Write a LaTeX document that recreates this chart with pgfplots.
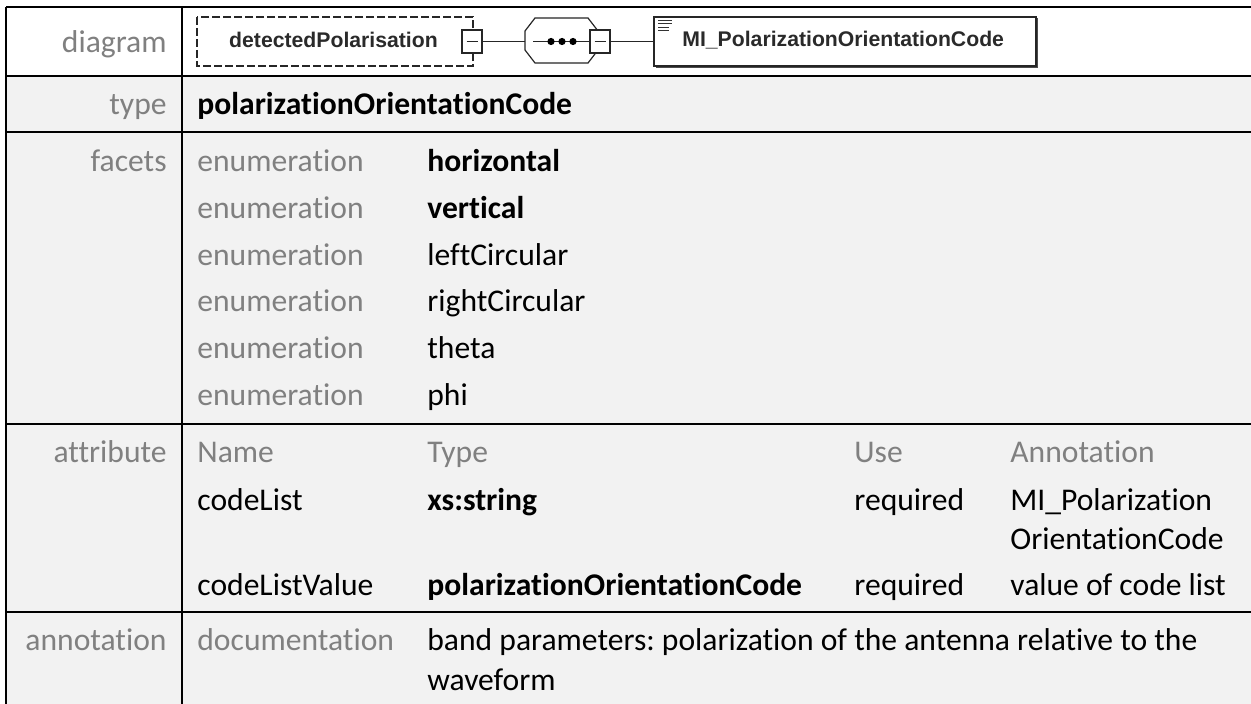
\documentclass[border=0pt]{standalone}
\usepackage{pgfplots}
\pgfplotsset{compat=1.18}
\usepackage{fontspec}
\setmainfont{Carlito}[Ligatures={NoCommon,NoRare}]
\newfontfamily\arialfont{Liberation Sans}
\definecolor{bgG}{HTML}{F2F2F2}
\definecolor{lblG}{HTML}{808080}
\definecolor{diaT}{HTML}{2A2A2A}
\frenchspacing
\begin{document}
\begin{tikzpicture}
\begin{axis}[
  scale only axis, width=625.5bp, height=352bp,
  xmin=0, xmax=1251, ymin=0, ymax=704, y dir=reverse,
  axis lines=none, xtick=\empty, ytick=\empty, clip=true,
]
% backgrounds
\fill[white] (0,0) rectangle (1251,704);
\fill[bgG] (6,76) rectangle (1251,704);
% grid lines
\draw[line width=1.3bp] (6,7) -- (1251,7);
\draw[line width=1.3bp] (6,7) -- (6,704);
\draw[line width=1.3bp] (182,7) -- (182,704);
\draw[line width=1.3bp] (6,76) -- (1251,76);
\draw[line width=1.3bp] (6,132) -- (1251,132);
\draw[line width=1.3bp] (6,424) -- (1251,424);
\draw[line width=1.3bp] (6,612) -- (1251,612);
% ---- diagram
\draw[line width=0.7bp, dash pattern=on 4bp off 1.5bp, draw=black!85] (197,17) rectangle (473,66);
\node[anchor=center, inner sep=0, text=diaT, font=\arialfont\bfseries\fontsize{10.6bp}{12bp}\selectfont] at (333.5,40) {detectedPolarisation};
\fill[white] (462,30) rectangle (482,53);
\draw[line width=0.6bp, draw=black!85] (462,30) rectangle (482,53);
\draw[line width=0.6bp, draw=black!85] (466.5,41.5) -- (477.5,41.5);
\draw[line width=0.6bp, draw=black!85] (482,41.5) -- (525,41.5);
\fill[white] (525,31) -- (535,18) -- (588,18) -- (598,31) -- (598,50) -- (588,63) -- (535,63) -- (525,50) -- cycle;
\draw[line width=0.6bp, draw=black!85] (525,31) -- (535,18) -- (588,18) -- (598,31) -- (598,50) -- (588,63) -- (535,63) -- (525,50) -- cycle;
\draw[line width=0.6bp, draw=black!85] (533,41.5) -- (590,41.5);
\fill[black] (551,41.5) circle[radius=1.8bp];
\fill[black] (562,41.5) circle[radius=1.8bp];
\fill[black] (573,41.5) circle[radius=1.8bp];
\fill[white] (590,30) rectangle (610,53);
\draw[line width=0.6bp, draw=black!85] (590,30) rectangle (610,53);
\draw[line width=0.6bp, draw=black!85] (594.5,41.5) -- (605.5,41.5);
\draw[line width=0.6bp, draw=black!85] (610,41.5) -- (654,41.5);
\draw[line width=0.6bp, draw=black!85] (654,17) rectangle (1036,66);
\draw[line width=0.6bp, draw=black!70] (1037.5,18.5) -- (1037.5,67.5) -- (655.5,67.5);
\draw[line width=0.5bp, draw=black!80] (658,20.5) -- (672,20.5);
\draw[line width=0.5bp, draw=black!80] (658,24) -- (672,24);
\draw[line width=0.5bp, draw=black!80] (658,27.5) -- (669,27.5);
\draw[line width=0.5bp, draw=black!80] (658,31) -- (669,31);
\node[anchor=west, inner sep=0, text=diaT, font=\arialfont\bfseries\fontsize{10.6bp}{12bp}\selectfont] at (682,40) {MI\_PolarizationOrientationCode};
% ---- text styles
\pgfkeys{/tikz/lbl/.style={anchor=base east, inner sep=0, text=lblG, font=\fontsize{15.8bp}{19bp}\selectfont}}
\pgfkeys{/tikz/gw/.style={anchor=base west, inner sep=0, text=lblG, font=\fontsize{15.8bp}{19bp}\selectfont}}
\pgfkeys{/tikz/bw/.style={anchor=base west, inner sep=0, text=black, font=\fontsize{15.8bp}{19bp}\selectfont}}
\pgfkeys{/tikz/bb/.style={anchor=base west, inner sep=0, text=black, font=\fontsize{15.8bp}{19bp}\selectfont\bfseries}}
% labels
\node[lbl] at (167,52.5) {diagram};
\node[lbl] at (167,114) {type};
\node[lbl] at (167,171.5) {facets};
\node[lbl] at (167,462.5) {attribute};
\node[lbl] at (167,650.5) {annotation};
% type
\node[bb] at (197,114) {polarizationOrientationCode};
% facets
\node[gw] at (197,171.5) {enumeration};
\node[bb] at (427,171.5) {horizontal};
\node[gw] at (197,218.3) {enumeration};
\node[bb] at (427,218.3) {vertical};
\node[gw] at (197,265) {enumeration};
\node[bw] at (427,265) {leftCircular};
\node[gw] at (197,311.8) {enumeration};
\node[bw] at (427,311.8) {rightCircular};
\node[gw] at (197,358.5) {enumeration};
\node[bw] at (427,358.5) {theta};
\node[gw] at (197,405.3) {enumeration};
\node[bw] at (427,405.3) {phi};
% attribute
\node[gw] at (197,462.5) {Name};
\node[gw] at (427,462.5) {Type};
\node[gw] at (854,462.5) {Use};
\node[gw] at (1010,462.5) {Annotation};
\node[bw] at (197,510) {codeList};
\node[bb] at (427,510) {xs:string};
\node[bw] at (854,510) {required};
\node[bw] at (1010,510) {MI\_Polarization};
\node[bw] at (1010,549) {OrientationCode};
\node[bw] at (197,595) {codeListValue};
\node[bb] at (427,595) {polarizationOrientationCode};
\node[bw] at (854,595) {required};
\node[bw] at (1010,595) {value of code list};
% annotation
\node[gw] at (197,650.5) {documentation};
\node[bw] at (427,650.5) {band parameters: polarization of the antenna relative to the};
\node[bw] at (427,690.5) {waveform};
\end{axis}
\end{tikzpicture}
\end{document}
